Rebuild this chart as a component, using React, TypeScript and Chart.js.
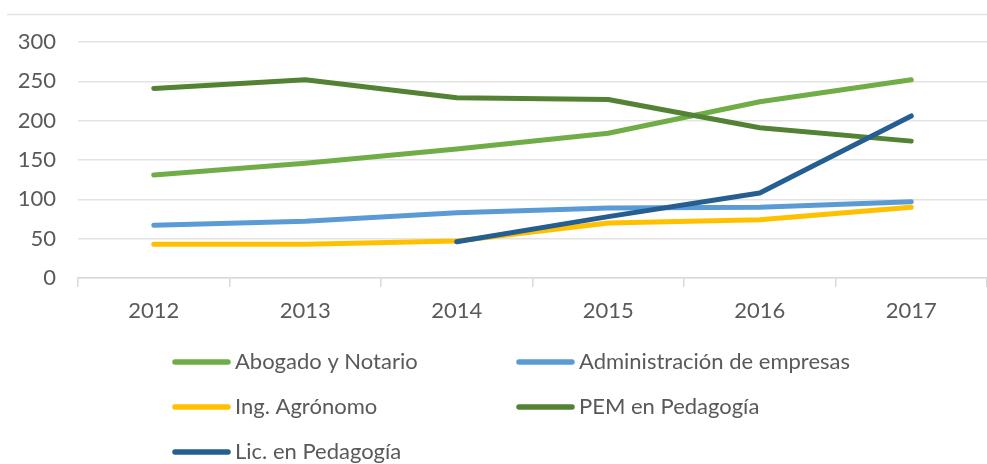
import React, { useEffect, useRef } from "react";
import { Chart, registerables } from "chart.js";

Chart.register(...registerables);

const categories = ["2012", "2013", "2014", "2015", "2016", "2017"];
const seriesNames = [
  "Abogado y Notario",
  "Administración de empresas",
  "Ing. Agrónomo",
  "PEM en Pedagogía",
  "Lic. en Pedagogía",
];
const abogado = [131, 146, 164, 184, 224, 252];
const administracion = [67, 72, 83, 89, 90, 97];
const ingAgronomo = [43, 43, 47, 70, 74, 90];
const pemPedagogia = [241, 252, 229, 227, 191, 174];
const licPedagogia = [null, null, 46, 78, 108, 206];
const seriesColors = ["#70AD47", "#5B9BD5", "#FFC000", "#548235", "#255E91"];
const yMin = 0;
const yMax = 300;
const yStep = 50;

const FONT = "Lato, 'Open Sans', sans-serif";
const TEXT = "#595959";
const GRID = "#E3E3E3";

const decorPlugin = {
  id: "decor",
  beforeDraw(chart: any) {
    const ctx = chart.ctx;
    ctx.save();
    ctx.strokeStyle = GRID;
    ctx.lineWidth = 1.5;
    ctx.beginPath();
    ctx.moveTo(7, 14.5);
    ctx.lineTo(chart.width, 14.5);
    ctx.stroke();
    ctx.restore();
  },
  afterDraw(chart: any) {
    const ctx = chart.ctx;
    const cols = [173, 517];
    const rows = [362, 407, 452];
    ctx.save();
    ctx.font = `22px ${FONT}`;
    ctx.textBaseline = "middle";
    ctx.fillStyle = TEXT;
    chart.data.datasets.forEach((ds: any, i: number) => {
      const x = cols[i % 2];
      const y = rows[Math.floor(i / 2)];
      ctx.strokeStyle = ds.borderColor;
      ctx.lineWidth = 5.5;
      ctx.lineCap = "round";
      ctx.beginPath();
      ctx.moveTo(x + 2, y);
      ctx.lineTo(x + 55, y);
      ctx.stroke();
      ctx.fillText(ds.label, x + 62, y);
    });
    ctx.restore();
  },
};

export default function App() {
  const ref = useRef<HTMLCanvasElement | null>(null);
  useEffect(() => {
    if (!ref.current) return;
    const values = [abogado, administracion, ingAgronomo, pemPedagogia, licPedagogia];
    const chart = new Chart(ref.current, {
      type: "line",
      data: {
        labels: categories,
        datasets: values.map((v, i) => ({
          label: seriesNames[i],
          data: v,
          borderColor: seriesColors[i],
          backgroundColor: seriesColors[i],
          borderWidth: 5,
          pointRadius: 0,
          tension: 0,
          borderCapStyle: "round",
          borderJoinStyle: "round",
          spanGaps: false,
          order: values.length - i,
        })),
      },
      options: {
        responsive: false,
        animation: false,
        layout: { padding: { top: 42, right: 0, bottom: 0, left: 0 } },
        plugins: {
          legend: { display: false },
          tooltip: { enabled: false },
        },
        scales: {
          x: {
            offset: true,
            grid: {
              offset: true,
              drawOnChartArea: false,
              drawTicks: true,
              tickLength: 9,
              color: "#D9D9D9",
              lineWidth: 1.5,
            },
            border: { display: true, color: "#D9D9D9", width: 1.5 },
            ticks: {
              color: TEXT,
              font: { family: FONT, size: 22 },
              padding: 11,
              maxRotation: 0,
            },
            afterFit(scale: any) {
              scale.height = 464 - 278;
            },
          },
          y: {
            min: yMin,
            max: yMax,
            grid: { color: GRID, lineWidth: 1.5, drawTicks: false },
            border: { display: false },
            ticks: {
              stepSize: yStep,
              color: TEXT,
              font: { family: FONT, size: 22 },
              padding: 22,
            },
            afterFit(scale: any) {
              scale.width = 78;
            },
          },
        },
      },
      plugins: [decorPlugin],
    });
    return () => chart.destroy();
  }, []);
  return (
    <div style={{ position: "fixed", left: 0, top: 0, width: 987, height: 464, background: "#fff" }}>
      <canvas ref={ref} width={987} height={464} />
    </div>
  );
}
